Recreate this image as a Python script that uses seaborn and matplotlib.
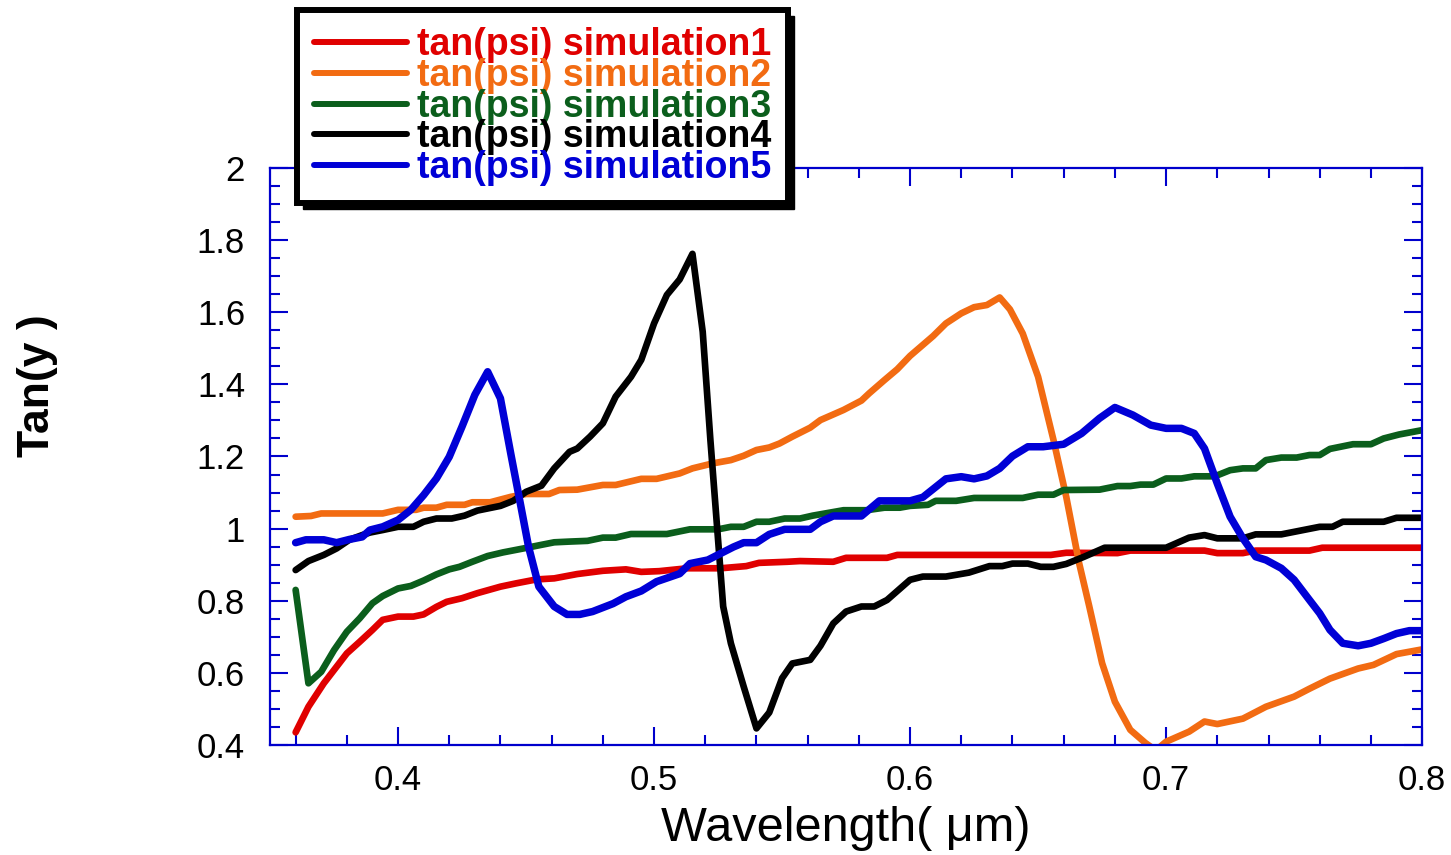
import numpy as np
import pandas as pd
import matplotlib
matplotlib.use("Agg")
import matplotlib.pyplot as plt
from matplotlib.ticker import MultipleLocator, FuncFormatter
from matplotlib.patches import Rectangle
import seaborn as sns

# valores (comprimento de onda em um, tan(psi))
x_sim1 = [0.360, 0.365, 0.371, 0.380, 0.385, 0.390, 0.394, 0.400, 0.406, 0.410,
          0.415, 0.419, 0.425, 0.431, 0.440, 0.446, 0.454, 0.461, 0.470, 0.480,
          0.489, 0.495, 0.502, 0.513, 0.526, 0.536, 0.541, 0.552, 0.557, 0.570,
          0.575, 0.591, 0.595, 0.655, 0.661, 0.681, 0.686, 0.715, 0.720, 0.730,
          0.735, 0.756, 0.761, 0.800]
y_sim1 = [0.435, 0.506, 0.571, 0.654, 0.686, 0.719, 0.747, 0.756, 0.756, 0.762,
          0.783, 0.797, 0.807, 0.821, 0.839, 0.848, 0.859, 0.862, 0.874, 0.883,
          0.887, 0.880, 0.882, 0.890, 0.890, 0.896, 0.905, 0.908, 0.910, 0.908,
          0.919, 0.919, 0.927, 0.927, 0.933, 0.932, 0.939, 0.939, 0.932, 0.932,
          0.939, 0.939, 0.947, 0.947]

x_sim2 = [0.360, 0.366, 0.370, 0.394, 0.400, 0.407, 0.410, 0.415, 0.419, 0.426,
          0.429, 0.436, 0.444, 0.450, 0.459, 0.463, 0.470, 0.480, 0.485, 0.495,
          0.501, 0.510, 0.515, 0.523, 0.530, 0.535, 0.540, 0.545, 0.549, 0.554,
          0.561, 0.565, 0.574, 0.581, 0.584, 0.590, 0.595, 0.600, 0.609, 0.614,
          0.620, 0.625, 0.630, 0.635, 0.639, 0.644, 0.650, 0.656, 0.661, 0.666,
          0.670, 0.675, 0.680, 0.686, 0.692, 0.696, 0.700, 0.709, 0.715, 0.720,
          0.730, 0.739, 0.750, 0.756, 0.764, 0.775, 0.781, 0.790, 0.800]
y_sim2 = [1.033, 1.035, 1.042, 1.042, 1.052, 1.052, 1.058, 1.058, 1.066, 1.066,
          1.073, 1.073, 1.088, 1.096, 1.096, 1.107, 1.108, 1.121, 1.121, 1.138,
          1.138, 1.153, 1.167, 1.181, 1.190, 1.202, 1.218, 1.225, 1.236, 1.255,
          1.280, 1.301, 1.329, 1.355, 1.375, 1.412, 1.442, 1.479, 1.534, 1.569,
          1.597, 1.614, 1.620, 1.641, 1.608, 1.541, 1.421, 1.246, 1.088, 0.905,
          0.784, 0.627, 0.520, 0.442, 0.405, 0.385, 0.409, 0.437, 0.465, 0.458,
          0.473, 0.506, 0.534, 0.556, 0.584, 0.612, 0.622, 0.652, 0.665]

x_sim3 = [0.360, 0.365, 0.370, 0.375, 0.380, 0.385, 0.390, 0.394, 0.400, 0.405,
          0.410, 0.415, 0.420, 0.424, 0.429, 0.435, 0.441, 0.449, 0.456, 0.461,
          0.467, 0.474, 0.480, 0.485, 0.491, 0.505, 0.514, 0.525, 0.530, 0.535,
          0.540, 0.545, 0.551, 0.557, 0.562, 0.574, 0.583, 0.590, 0.596, 0.600,
          0.607, 0.610, 0.618, 0.625, 0.644, 0.650, 0.656, 0.660, 0.674, 0.681,
          0.686, 0.690, 0.695, 0.700, 0.706, 0.711, 0.719, 0.725, 0.730, 0.735,
          0.739, 0.745, 0.751, 0.756, 0.760, 0.764, 0.773, 0.780, 0.785, 0.791,
          0.800]
y_sim3 = [0.830, 0.571, 0.603, 0.663, 0.714, 0.751, 0.793, 0.813, 0.834, 0.841,
          0.856, 0.873, 0.887, 0.894, 0.908, 0.924, 0.934, 0.945, 0.955, 0.962,
          0.964, 0.966, 0.975, 0.975, 0.985, 0.985, 0.998, 0.998, 1.005, 1.005,
          1.019, 1.019, 1.028, 1.028, 1.036, 1.051, 1.051, 1.058, 1.058, 1.063,
          1.066, 1.077, 1.077, 1.085, 1.085, 1.094, 1.094, 1.107, 1.108, 1.118,
          1.118, 1.122, 1.122, 1.139, 1.139, 1.145, 1.145, 1.162, 1.167, 1.167,
          1.190, 1.197, 1.197, 1.204, 1.204, 1.221, 1.234, 1.234, 1.250, 1.261,
          1.273]

x_sim4 = [0.360, 0.365, 0.371, 0.376, 0.381, 0.386, 0.389, 0.394, 0.400, 0.406,
          0.410, 0.415, 0.421, 0.426, 0.431, 0.440, 0.445, 0.450, 0.456, 0.461,
          0.467, 0.470, 0.475, 0.480, 0.485, 0.491, 0.495, 0.500, 0.505, 0.510,
          0.515, 0.519, 0.522, 0.525, 0.527, 0.530, 0.535, 0.540, 0.545, 0.550,
          0.554, 0.561, 0.565, 0.570, 0.575, 0.581, 0.586, 0.591, 0.600, 0.605,
          0.614, 0.623, 0.631, 0.636, 0.640, 0.646, 0.651, 0.656, 0.661, 0.668,
          0.676, 0.700, 0.709, 0.715, 0.720, 0.730, 0.735, 0.745, 0.760, 0.765,
          0.769, 0.785, 0.790, 0.800]
y_sim4 = [0.885, 0.910, 0.927, 0.945, 0.969, 0.982, 0.989, 0.996, 1.005, 1.005,
          1.019, 1.028, 1.028, 1.036, 1.050, 1.063, 1.077, 1.102, 1.119, 1.167,
          1.213, 1.222, 1.255, 1.292, 1.366, 1.421, 1.468, 1.569, 1.648, 1.691,
          1.762, 1.546, 1.246, 0.969, 0.784, 0.682, 0.562, 0.446, 0.490, 0.585,
          0.626, 0.636, 0.675, 0.737, 0.770, 0.784, 0.784, 0.802, 0.858, 0.867,
          0.867, 0.878, 0.896, 0.896, 0.903, 0.903, 0.894, 0.894, 0.902, 0.922,
          0.947, 0.947, 0.975, 0.982, 0.973, 0.973, 0.984, 0.984, 1.005, 1.005,
          1.019, 1.019, 1.030, 1.030]

x_sim5 = [0.360, 0.364, 0.371, 0.376, 0.381, 0.386, 0.389, 0.394, 0.400, 0.405,
          0.410, 0.415, 0.420, 0.425, 0.430, 0.435, 0.440, 0.444, 0.448, 0.451,
          0.455, 0.461, 0.466, 0.471, 0.476, 0.484, 0.489, 0.495, 0.501, 0.510,
          0.514, 0.521, 0.531, 0.535, 0.540, 0.545, 0.551, 0.557, 0.561, 0.565,
          0.570, 0.581, 0.588, 0.600, 0.605, 0.614, 0.620, 0.625, 0.630, 0.635,
          0.640, 0.646, 0.652, 0.660, 0.667, 0.674, 0.680, 0.687, 0.694, 0.700,
          0.706, 0.711, 0.715, 0.720, 0.725, 0.730, 0.735, 0.739, 0.745, 0.750,
          0.756, 0.760, 0.764, 0.769, 0.775, 0.780, 0.785, 0.790, 0.795, 0.800]
y_sim5 = [0.961, 0.969, 0.969, 0.961, 0.970, 0.977, 0.996, 1.005, 1.024, 1.052,
          1.093, 1.139, 1.199, 1.283, 1.371, 1.435, 1.361, 1.209, 1.061, 0.949,
          0.839, 0.784, 0.762, 0.762, 0.770, 0.792, 0.811, 0.827, 0.853, 0.875,
          0.903, 0.913, 0.949, 0.961, 0.961, 0.984, 0.998, 0.998, 0.998, 1.019,
          1.035, 1.035, 1.077, 1.077, 1.087, 1.138, 1.144, 1.138, 1.146, 1.167,
          1.201, 1.227, 1.227, 1.234, 1.264, 1.306, 1.336, 1.315, 1.287, 1.278,
          1.278, 1.264, 1.222, 1.125, 1.033, 0.973, 0.922, 0.913, 0.890, 0.858,
          0.802, 0.765, 0.719, 0.682, 0.675, 0.682, 0.695, 0.709, 0.717, 0.717]

nomes = ["tan(psi) simulation1", "tan(psi) simulation2", "tan(psi) simulation3",
         "tan(psi) simulation4", "tan(psi) simulation5"]
cores = ["#e00000", "#f26b12", "#0b5e1c", "#000000", "#0000d6"]

xs = [x_sim1, x_sim2, x_sim3, x_sim4, x_sim5]
ys = [y_sim1, y_sim2, y_sim3, y_sim4, y_sim5]

sns.set_style("ticks")
plt.rcParams['font.family'] = ['Liberation Sans', 'DejaVu Sans']
plt.rcParams['text.color'] = 'black'
plt.rcParams['axes.labelcolor'] = 'black'

fig = plt.figure(figsize=(14.51, 8.55), dpi=100)
ax = fig.add_axes([0.1861, 0.1287, 0.7940, 0.6748])

for x, y, nome, cor in zip(xs, ys, nomes, cores):
    df = pd.DataFrame({"wl": x, "tan": y})
    lw = 5.4 if cor == "#0000d6" else 4.8
    sns.lineplot(data=df, x="wl", y="tan", ax=ax, color=cor, linewidth=lw,
                 label=nome, estimator=None, sort=False)

ax.set_xlim(0.35, 0.8)
ax.set_ylim(0.4, 2.0)

azul = "#0000cc"
for s in ax.spines.values():
    s.set_color(azul)
    s.set_linewidth(1.6)

ax.xaxis.set_major_locator(MultipleLocator(0.1))
ax.xaxis.set_minor_locator(MultipleLocator(0.02))
ax.yaxis.set_major_locator(MultipleLocator(0.2))
ax.yaxis.set_minor_locator(MultipleLocator(0.05))
ax.xaxis.set_major_formatter(FuncFormatter(lambda v, p: "%g" % round(v, 2)))
ax.yaxis.set_major_formatter(FuncFormatter(lambda v, p: "%g" % round(v, 2)))

ax.tick_params(which="both", direction="in", top=True, right=True,
               color=azul, width=1.5, labelcolor="black")
ax.tick_params(which="major", length=13)
ax.tick_params(which="minor", length=7)
ax.tick_params(axis="x", which="major", labelsize=25, pad=14)
ax.tick_params(axis="y", which="major", labelsize=25, pad=18)

ax.set_xlabel("Wavelength( \u03bcm)", fontsize=35, labelpad=6, color="black")
ax.set_ylabel("Tan(y )", fontsize=32, fontweight="bold", color="black")
ax.yaxis.set_label_coords(-0.184, 0.622)

handles, labels = ax.get_legend_handles_labels()
ax.get_legend().remove()
leg = fig.legend(handles, labels, loc="upper left", bbox_to_anchor=(0.2045, 0.988),
                 frameon=True, fancybox=False, prop={"size": 27, "weight": "bold"},
                 handlelength=2.5, handletextpad=0.25, labelspacing=-0.14,
                 borderpad=0.45, borderaxespad=0)
leg.get_frame().set_edgecolor("black")
leg.get_frame().set_linewidth(4.3)
leg.get_frame().set_facecolor("white")
leg.get_frame().set_alpha(1)
for t, cor in zip(leg.get_texts(), cores):
    t.set_color(cor)
for h in leg.legend_handles:
    h.set_linewidth(4.3)

# sombra preta deslocada atras da legenda
fig.canvas.draw()
bb = leg.get_window_extent()
sombra = Rectangle((bb.x0 + 6, bb.y0 - 6), bb.width, bb.height, transform=None,
                   facecolor="black", edgecolor="black", zorder=4.9)
fig.patches.append(sombra)

fig.savefig("out.png", dpi=100)
